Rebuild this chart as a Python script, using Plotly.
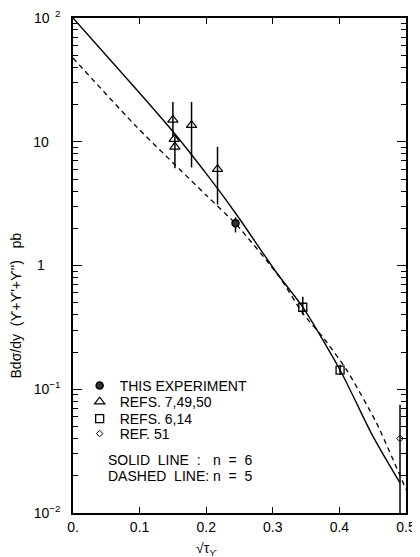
import plotly.graph_objects as go

# ---- data ----
solid_x = [0.0, 0.10, 0.15, 0.205, 0.246, 0.306, 0.345, 0.401, 0.450, 0.491]
solid_y = [100, 24.8, 12.1, 5.1, 2.56, 0.87, 0.46, 0.143, 0.042, 0.0175]

dashed_x = [0.0, 0.0955, 0.200, 0.246, 0.310, 0.345, 0.375, 0.411, 0.456, 0.500]
dashed_y = [47.5, 13.2, 3.7, 2.12, 0.81, 0.41, 0.264, 0.143, 0.053, 0.0155]

exp_x = [0.244]
exp_y = [2.2]
exp_ep = [0.25]
exp_em = [0.35]

tri_x = [0.150, 0.152, 0.153, 0.178, 0.217]
tri_y = [15.0, 10.5, 9.1, 13.6, 6.0]
tri_ep = [6.0, 0.0, 2.0, 7.4, 3.1]
tri_em = [4.0, 0.0, 3.0, 7.4, 2.9]

sq_x = [0.345, 0.401]
sq_y = [0.46, 0.143]
sq_ep = [0.10, 0.015]
sq_em = [0.06, 0.012]

dia_x = [0.491]
dia_y = [0.040]
dia_ep = [0.035]
dia_em = [0.036]

x_ticks = [0, 0.1, 0.2, 0.3, 0.4, 0.5]
x_ticktext = ["0.", "0.1", "0.2", "0.3", "0.4", "0.5"]
y_ticks = [0.01, 0.1, 1, 10, 100]
y_ticktext = ["10<sup>−2</sup>", "10<sup>−1</sup>", "1&nbsp;&nbsp;&nbsp;&nbsp;", "10&nbsp;&nbsp;&nbsp;", "10<sup>&nbsp;&nbsp;2</sup>"]
y_minor = [m * 10.0 ** e for e in (-2, -1, 0, 1) for m in range(2, 10)]

FONT = "Liberation Sans"
fig = go.Figure()

fig.add_trace(go.Scatter(x=solid_x, y=solid_y, mode="lines", showlegend=False,
                         line=dict(color="black", width=1.4, shape="spline", smoothing=0.7)))
fig.add_trace(go.Scatter(x=dashed_x, y=dashed_y, mode="lines", showlegend=False,
                         line=dict(color="black", width=1.3, dash="5px,4px", shape="spline", smoothing=0.6)))

eb = dict(type="data", symmetric=False, color="black", thickness=1.5, width=0)

fig.add_trace(go.Scatter(x=exp_x, y=exp_y, mode="markers", name="THIS EXPERIMENT", legend="legend",
                         marker=dict(symbol="circle", size=7, color="#333", line=dict(color="black", width=1.5)),
                         error_y=dict(eb, array=exp_ep, arrayminus=exp_em)))
fig.add_trace(go.Scatter(x=tri_x, y=tri_y, mode="markers", name="REFS. 7,49,50", legend="legend2",
                         marker=dict(symbol="triangle-up-open", size=9, color="black", line=dict(width=1.2)),
                         error_y=dict(eb, array=tri_ep, arrayminus=tri_em)))
fig.add_trace(go.Scatter(x=sq_x, y=sq_y, mode="markers", name="REFS. 6,14", legend="legend3",
                         marker=dict(symbol="square-open", size=8, color="black", line=dict(width=1.3)),
                         error_y=dict(eb, array=sq_ep, arrayminus=sq_em)))
fig.add_trace(go.Scatter(x=dia_x, y=dia_y, mode="markers", name="REF. 51", legend="legend4",
                         marker=dict(symbol="diamond-open", size=5, color="black", line=dict(width=1)),
                         error_y=dict(eb, array=dia_ep, arrayminus=dia_em)))

axis_common = dict(showline=True, linecolor="black", linewidth=1.5, mirror="allticks",
                   ticks="inside", tickcolor="black", showgrid=False, zeroline=False, automargin=False,
                   tickfont=dict(family=FONT, size=14, color="black"))

fig.update_xaxes(range=[0, 0.5], tickvals=x_ticks, ticktext=x_ticktext, ticklen=6, tickwidth=1.3,
                 **axis_common)
fig.update_yaxes(type="log", range=[-2, 2], tickvals=y_ticks, ticktext=y_ticktext, ticklen=9, tickwidth=1.3,
                 ticklabelstandoff=8,
                 minor=dict(ticks="inside", ticklen=5, tickcolor="black", tickwidth=1, showgrid=False,
                            tickvals=y_minor),
                 **axis_common)

fig.add_annotation(text="Bdσ/dy&nbsp;&nbsp;(ϒ+ϒ'+ϒ'')&nbsp;&nbsp;&nbsp;pb", textangle=-90,
                   xref="paper", yref="paper", x=-0.17, y=0.42, xanchor="center", yanchor="middle",
                   showarrow=False, font=dict(family=FONT, size=14, color="black"))
fig.add_annotation(text="√τ<sub>ϒ</sub>", xref="paper", yref="paper", x=0.40, y=-0.072,
                   xanchor="center", yanchor="middle", showarrow=False,
                   font=dict(family=FONT, size=14, color="black"))

ann_font = dict(family=FONT, size=14, color="black")
fig.add_annotation(text="SOLID&nbsp;&nbsp;LINE&nbsp;&nbsp;:", xref="paper", yref="paper", x=0.10, y=0.107,
                   xanchor="left", yanchor="middle", showarrow=False, font=ann_font)
fig.add_annotation(text="DASHED&nbsp;&nbsp;LINE:", xref="paper", yref="paper", x=0.10, y=0.075,
                   xanchor="left", yanchor="middle", showarrow=False, font=ann_font)
fig.add_annotation(text="n&nbsp;&nbsp;=&nbsp;&nbsp;6", xref="paper", yref="paper", x=0.415, y=0.107,
                   xanchor="left", yanchor="middle", showarrow=False, font=ann_font)
fig.add_annotation(text="n&nbsp;&nbsp;=&nbsp;&nbsp;5", xref="paper", yref="paper", x=0.415, y=0.075,
                   xanchor="left", yanchor="middle", showarrow=False, font=ann_font)

leg = dict(x=0.02, xanchor="left", yanchor="middle", bgcolor="rgba(0,0,0,0)",
           font=dict(family=FONT, size=14, color="black"), itemwidth=30)
fig.update_layout(
    width=412, height=549,
    margin=dict(l=65, r=14, t=10, b=44),
    paper_bgcolor="white", plot_bgcolor="white",
    font=dict(family=FONT, size=14, color="black"),
    legend=dict(leg, y=0.2566),
    legend2=dict(leg, y=0.2242),
    legend3=dict(leg, y=0.1899),
    legend4=dict(leg, y=0.1596),
)

fig.write_html("out.html")
